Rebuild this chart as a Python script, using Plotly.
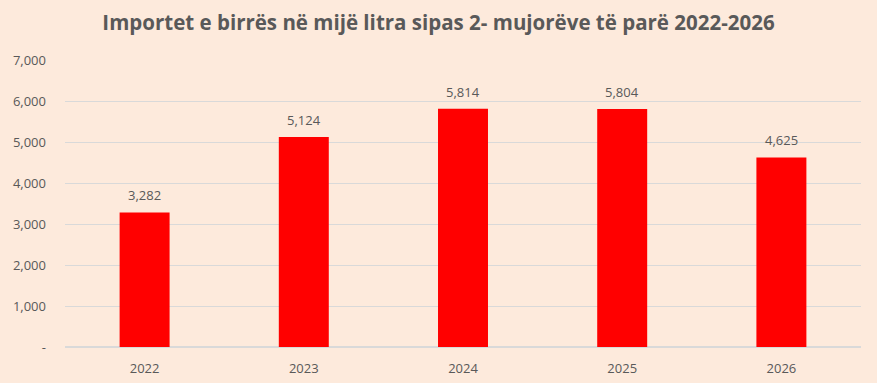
import plotly.graph_objects as go

years = ["2022", "2023", "2024", "2025", "2026"]
values = [3282, 5124, 5814, 5804, 4625]
tick_vals = [0, 1000, 2000, 3000, 4000, 5000, 6000, 7000]
tick_text = ["-", "1,000", "2,000", "3,000", "4,000", "5,000", "6,000", "7,000"]
title = "Importet e birrës në mijë litra sipas 2- mujorëve të parë 2022-2026"

bg = "#FDEADC"
txt = "#595959"
font = "Open Sans, sans-serif"

idx = list(range(len(years)))

fig = go.Figure(go.Bar(
    x=idx, y=values,
    marker=dict(color="#FF0000", line=dict(width=0)),
    width=0.314,
    hoverinfo="y",
))

for i, v in zip(idx, values):
    fig.add_annotation(
        x=i, y=v, xref="x", yref="y", text=f"{v:,}", showarrow=False,
        yanchor="bottom", yshift=6,
        font=dict(family=font, size=13, color=txt),
    )

fig.update_layout(
    width=877, height=383,
    paper_bgcolor=bg, plot_bgcolor=bg,
    margin=dict(l=65, r=16, t=60, b=36),
    title=dict(text=title, x=0.5, xanchor="center", y=0.94, yanchor="middle",
               font=dict(family=font, size=20.5, color=txt, weight="bold")),
    showlegend=False,
)
fig.update_xaxes(
    type="linear", range=[-0.5, len(years) - 0.5],
    tickvals=idx, ticktext=years,
    showgrid=False, showline=False, ticks="", zeroline=False,
    ticklabelstandoff=12, automargin=False,
    tickfont=dict(family=font, size=13, color=txt),
)
fig.update_yaxes(
    range=[0, 7000], tickvals=tick_vals, ticktext=tick_text,
    showgrid=True, gridcolor="#D9D9D9", gridwidth=1, zeroline=True, zerolinecolor="#D9D9D9",
    ticklabelstandoff=18, automargin=False,
    tickfont=dict(family=font, size=13, color=txt),
)

fig.write_html("out.html", config={"displayModeBar": False},
               post_script="document.body.style.margin='0';document.body.style.background='" + bg + "';")
